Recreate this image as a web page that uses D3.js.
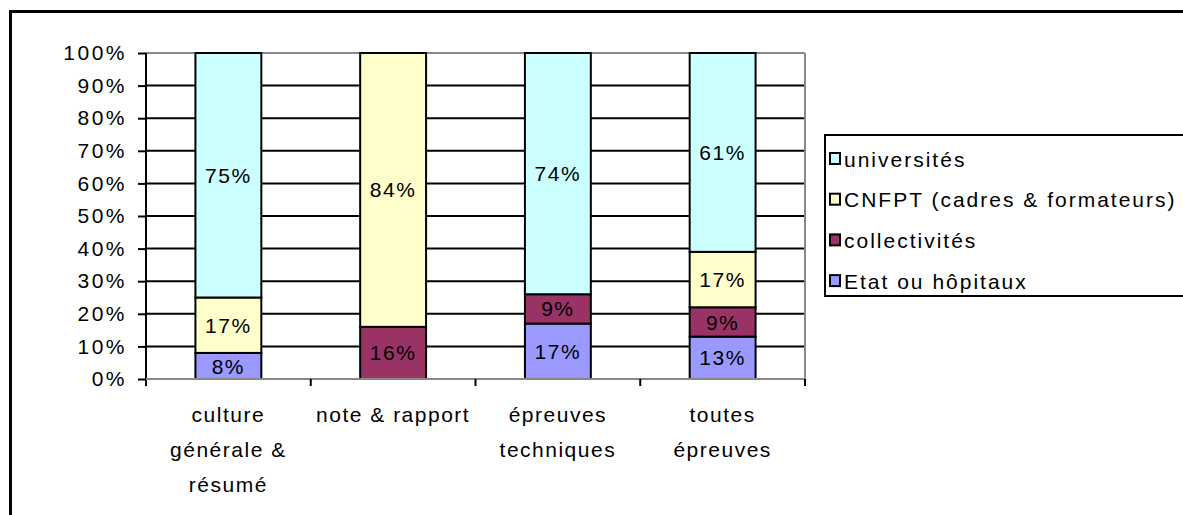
<!DOCTYPE html>
<html>
<head>
<meta charset="utf-8">
<script src="https://cdn.jsdelivr.net/npm/d3@7"></script>
<style>
  body { margin: 0; background: #fff; }
  svg text { font-family: "Liberation Sans", Arial, sans-serif; fill: #000; }
</style>
</head>
<body>
<svg width="1183" height="515"></svg>
<script>
var categories = [
  ["culture", "générale &", "résumé"],
  ["note & rapport"],
  ["épreuves", "techniques"],
  ["toutes", "épreuves"]
];
var seriesNames = ["Etat ou hôpitaux", "collectivités", "CNFPT (cadres & formateurs)", "universités"];
var seriesColors = ["#9999FF", "#993366", "#FFFFCC", "#CCFFFF"];
// percentages per category, in order of seriesNames
var etat = [8, 0, 17, 13];
var collectivites = [0, 16, 9, 9];
var cnfpt = [17, 84, 0, 17];
var universites = [75, 0, 74, 61];
var yTicks = [0, 10, 20, 30, 40, 50, 60, 70, 80, 90, 100];

var svg = d3.select("svg");

// outer frame
svg.append("rect").attr("x", 10.5).attr("y", 11.5).attr("width", 1200).attr("height", 600)
  .attr("fill", "none").attr("stroke", "#000").attr("stroke-width", 3);

var x = d3.scaleBand().domain(d3.range(categories.length)).range([146, 805])
  .paddingInner(0.6).paddingOuter(0.3);
var y = d3.scaleLinear().domain([0, 100]).range([379, 53]);

var rows = categories.map(function(c, i) {
  return { i: i, v: [etat[i], collectivites[i], cnfpt[i], universites[i]] };
});
var stack = d3.stack().keys([0, 1, 2, 3]).value(function(d, k) { return d.v[k]; });
var layers = stack(rows);

// gridlines
svg.append("g").selectAll("line").data(yTicks.slice(1)).enter().append("line")
  .attr("x1", 146).attr("x2", 805)
  .attr("y1", function(d) { return y(d); }).attr("y2", function(d) { return y(d); })
  .attr("stroke", function(d) { return d === 100 ? "#888" : "#000"; })
  .attr("stroke-width", 2);
// right edge of plot area
svg.append("line").attr("x1", 805).attr("x2", 805).attr("y1", y(100)).attr("y2", y(0))
  .attr("stroke", "#888").attr("stroke-width", 2);

// bars
var gl = svg.append("g").selectAll("g").data(layers).enter().append("g")
  .attr("fill", function(d, k) { return seriesColors[k]; });
gl.selectAll("rect").data(function(d) { return d.filter(function(s) { return s[1] > s[0]; }); })
  .enter().append("rect")
  .attr("x", function(d) { return x(d.data.i); })
  .attr("width", x.bandwidth())
  .attr("y", function(d) { return y(d[1]); })
  .attr("height", function(d) { return y(d[0]) - y(d[1]); })
  .attr("stroke", "#000").attr("stroke-width", 2);
gl.selectAll("text").data(function(d) { return d.filter(function(s) { return s[1] > s[0]; }); })
  .enter().append("text")
  .attr("x", function(d) { return x(d.data.i) + x.bandwidth() / 2; })
  .attr("y", function(d) { return y((d[0] + d[1]) / 2); })
  .attr("dy", "0.36em")
  .attr("text-anchor", "middle")
  .style("font-size", "21px").style("letter-spacing", "1.5px")
  .text(function(d) { return (d[1] - d[0]) + "%"; });

// y axis
var yAxis = svg.append("g").attr("transform", "translate(146,0)")
  .call(d3.axisLeft(y).tickValues(yTicks).tickSize(8).tickPadding(11)
    .tickFormat(function(d) { return d + "%"; }));
yAxis.select(".domain").attr("stroke", "#000").attr("stroke-width", 2).attr("d", "M0,53V386");
yAxis.selectAll(".tick line").attr("stroke", "#000").attr("stroke-width", 2);
yAxis.selectAll(".tick text").style("font-size", "21px").style("letter-spacing", "2.5px")
  .style("font-family", "'Liberation Sans', Arial, sans-serif").attr("fill", "#000");

// x axis
var xAxisG = svg.append("g").attr("transform", "translate(0," + y(0) + ")");
xAxisG.append("line").attr("x1", 146).attr("x2", 805).attr("stroke", "#888").attr("stroke-width", 2);
var edges = d3.range(categories.length + 1).map(function(i) { return 146 + i * x.step(); });
xAxisG.selectAll(".tk").data(edges.slice(1)).enter().append("line")
  .attr("x1", function(d) { return d; }).attr("x2", function(d) { return d; })
  .attr("y1", 0).attr("y2", 7).attr("stroke", "#000").attr("stroke-width", 2);
xAxisG.selectAll(".lbl").data(categories).enter().append("text")
  .attr("text-anchor", "middle")
  .attr("x", function(d, i) { return x(i) + x.bandwidth() / 2; })
  .attr("y", 43)
  .style("font-size", "21px").style("letter-spacing", "1.5px")
  .selectAll("tspan").data(function(d) { return d; }).enter().append("tspan")
  .attr("x", function() { return this.parentNode.getAttribute("x"); })
  .attr("dy", function(d, j) { return j === 0 ? 0 : 35; })
  .text(function(d) { return d; });

// legend
var legend = svg.append("g");
legend.append("rect").attr("x", 825).attr("y", 135).attr("width", 400).attr("height", 161)
  .attr("fill", "#fff").attr("stroke", "#000").attr("stroke-width", 2);
var legendOrder = [3, 2, 1, 0];
var li = legend.selectAll("g").data(legendOrder).enter().append("g")
  .attr("transform", function(d, j) { return "translate(830," + (159 + j * 40.7) + ")"; });
li.append("rect").attr("x", 0).attr("y", -6).attr("width", 10).attr("height", 11)
  .attr("fill", function(k) { return seriesColors[k]; })
  .attr("stroke", "#000").attr("stroke-width", 2);
li.append("text").attr("x", 14).attr("dy", "0.36em")
  .style("font-size", "21px").style("letter-spacing", "2px")
  .text(function(k) { return seriesNames[k]; });
</script>
</body>
</html>
